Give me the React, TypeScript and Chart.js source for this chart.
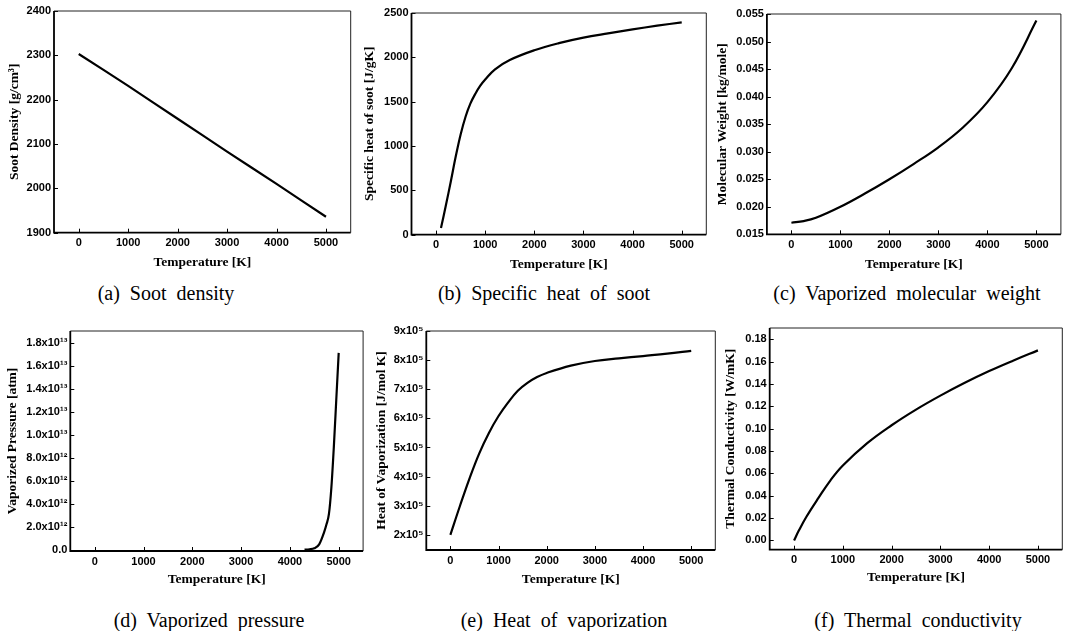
import React, { useEffect, useRef } from "react";
import { Chart, registerables } from "chart.js";

Chart.register(...registerables);

// ---------------- data ----------------
const X_TICKS = [0, 1000, 2000, 3000, 4000, 5000];
const X_TICK_LABELS = ["0", "1000", "2000", "3000", "4000", "5000"];

// (a) soot density
const densityT = [0, 1000, 2000, 3000, 4000, 5000];
const densityValues = [2303, 2231, 2157, 2083, 2010, 1936];
const densityTicks = [1900, 2000, 2100, 2200, 2300, 2400];
const densityTickLabels = ["1900", "2000", "2100", "2200", "2300", "2400"];

// (b) specific heat of soot
const cpT = [100, 200, 300, 400, 500, 600, 700, 800, 900, 1000, 1200, 1500, 2000, 2500, 3000, 3500, 4000, 4500, 5000];
const cpValues = [75, 330, 600, 880, 1130, 1330, 1480, 1590, 1680, 1750, 1865, 1970, 2080, 2160, 2222, 2270, 2315, 2357, 2395];
const cpTicks = [0, 500, 1000, 1500, 2000, 2500];
const cpTickLabels = ["0", "500", "1000", "1500", "2000", "2500"];

// (c) vaporized molecular weight
const mwT = [0, 250, 500, 1000, 1500, 2000, 2500, 3000, 3500, 4000, 4500, 5000];
const mwValues = [0.0171, 0.0174, 0.018, 0.02, 0.0224, 0.025, 0.0278, 0.0308, 0.0344, 0.039, 0.0452, 0.0538];
const mwTicks = [0.015, 0.02, 0.025, 0.03, 0.035, 0.04, 0.045, 0.05, 0.055];
const mwTickLabels = ["0.015", "0.020", "0.025", "0.030", "0.035", "0.040", "0.045", "0.050", "0.055"];

// (d) vaporized pressure
const pvT = [4300, 4400, 4500, 4600, 4700, 4750, 4800, 4850, 4900, 4950, 5000];
const pvValues = [0, 3e10, 1.2e11, 4.6e11, 1.5e12, 2.2e12, 3.1e12, 5.4e12, 8.9e12, 1.3e13, 1.71e13];
const pvTicks = [0, 2e12, 4e12, 6e12, 8e12, 1e13, 1.2e13, 1.4e13, 1.6e13, 1.8e13];
const pvTickLabels = ["0.0", "2.0x10¹²", "4.0x10¹²", "6.0x10¹²", "8.0x10¹²", "1.0x10¹³", "1.2x10¹³", "1.4x10¹³", "1.6x10¹³", "1.8x10¹³"];

// (e) heat of vaporization
const hvT = [0, 200, 400, 600, 800, 1000, 1200, 1400, 1600, 1800, 2000, 2500, 3000, 3500, 4000, 4500, 5000];
const hvValues = [2.0e5, 3.0e5, 3.95e5, 4.8e5, 5.5e5, 6.08e5, 6.55e5, 6.95e5, 7.22e5, 7.42e5, 7.56e5, 7.81e5, 7.97e5, 8.06e5, 8.14e5, 8.22e5, 8.32e5];
const hvTicks = [2e5, 3e5, 4e5, 5e5, 6e5, 7e5, 8e5, 9e5];
const hvTickLabels = ["2x10⁵", "3x10⁵", "4x10⁵", "5x10⁵", "6x10⁵", "7x10⁵", "8x10⁵", "9x10⁵"];

// (f) thermal conductivity
const kT = [0, 100, 250, 500, 750, 1000, 1500, 2000, 2500, 3000, 3500, 4000, 4500, 5000];
const kValues = [0, 0.009, 0.021, 0.038, 0.054, 0.067, 0.087, 0.103, 0.117, 0.1295, 0.141, 0.1515, 0.161, 0.17];
const kTicks = [0, 0.02, 0.04, 0.06, 0.08, 0.1, 0.12, 0.14, 0.16, 0.18];
const kTickLabels = ["0.00", "0.02", "0.04", "0.06", "0.08", "0.10", "0.12", "0.14", "0.16", "0.18"];

const X_TITLE = "Temperature [K]";

// ---------------- layout / styles ----------------
const TICK_FONT = { family: "'Liberation Sans', Arial, sans-serif", size: 11, weight: "bold" as const };
const TITLE_SIZE = 13.5;
const TITLE_FONT = { family: "'Liberation Serif', 'Times New Roman', serif", size: TITLE_SIZE, weight: "bold" as const, lineHeight: 1.2 };
const TITLE_LH = TITLE_SIZE * 1.2;

type PanelSpec = {
  xs: number[];
  ys: number[];
  yTicks: number[];
  yTickLabels: string[];
  yMin: number;
  yMax: number;
  yTitle: string;
  caption: string;
  monotone: boolean;
  box: { L: number; T: number; R: number; B: number };
  yTitleX: number;
  xTitleY: number;
  capX: number;
  capY: number;
};

const PANELS: PanelSpec[] = [
  {
    xs: densityT, ys: densityValues, yTicks: densityTicks, yTickLabels: densityTickLabels,
    yMin: 1900, yMax: 2400, yTitle: "Soot Density [g/cm³]", caption: "(a)  Soot  density", monotone: false,
    box: { L: 54, T: 11, R: 350.7, B: 232.7 }, yTitleX: 15, xTitleY: 263.3, capX: 166, capY: 293,
  },
  {
    xs: cpT, ys: cpValues, yTicks: cpTicks, yTickLabels: cpTickLabels,
    yMin: 0, yMax: 2500, yTitle: "Specific heat of soot [J/gK]", caption: "(b)  Specific  heat  of  soot", monotone: false,
    box: { L: 411.5, T: 12.7, R: 706.3, B: 234.3 }, yTitleX: 370, xTitleY: 265, capX: 544, capY: 293,
  },
  {
    xs: mwT, ys: mwValues, yTicks: mwTicks, yTickLabels: mwTickLabels,
    yMin: 0.015, yMax: 0.055, yTitle: "Molecular Weight [kg/mole]", caption: "(c)  Vaporized  molecular  weight", monotone: false,
    box: { L: 767.2, T: 14, R: 1061.2, B: 234.3 }, yTitleX: 723.3, xTitleY: 265, capX: 907, capY: 293,
  },
  {
    xs: pvT, ys: pvValues, yTicks: pvTicks, yTickLabels: pvTickLabels,
    yMin: -1.2e11, yMax: 1.9e13, yTitle: "Vaporized Pressure [atm]", caption: "(d)  Vaporized  pressure", monotone: true,
    box: { L: 70.6, T: 330.7, R: 363.4, B: 550.7 }, yTitleX: 13.3, xTitleY: 580, capX: 209, capY: 620,
  },
  {
    xs: hvT, ys: hvValues, yTicks: hvTicks, yTickLabels: hvTickLabels,
    yMin: 1.48e5, yMax: 9.0e5, yTitle: "Heat of Vaporization [J/mol K]", caption: "(e)  Heat  of  vaporization", monotone: false,
    box: { L: 426, T: 331, R: 715, B: 550 }, yTitleX: 381.7, xTitleY: 580, capX: 564, capY: 620,
  },
  {
    xs: kT, ys: kValues, yTicks: kTicks, yTickLabels: kTickLabels,
    yMin: -0.0083, yMax: 0.19, yTitle: "Thermal Conductivity [W/mK]", caption: "(f)  Thermal  conductivity", monotone: false,
    box: { L: 769.4, T: 328.3, R: 1062, B: 550 }, yTitleX: 730.7, xTitleY: 578.3, capX: 918, capY: 620,
  },
];

const framePlugin = {
  id: "frameAndInnerTicks",
  afterDraw(chart: any) {
    const { ctx, chartArea, scales } = chart;
    const { left, top, right, bottom } = chartArea;
    ctx.save();
    ctx.strokeStyle = "#000";
    ctx.lineWidth = 1;
    const tl = 4;
    ctx.beginPath();
    scales.x.ticks.forEach((t: any) => {
      const px = Math.round(scales.x.getPixelForValue(t.value)) + 0.5;
      ctx.moveTo(px, bottom);
      ctx.lineTo(px, bottom - tl);
    });
    scales.y.ticks.forEach((t: any) => {
      const py = Math.round(scales.y.getPixelForValue(t.value)) + 0.5;
      ctx.moveTo(left, py);
      ctx.lineTo(left + tl, py);
    });
    ctx.stroke();
    ctx.strokeStyle = "#222";
    ctx.lineWidth = 1;
    ctx.beginPath();
    ctx.moveTo(left, top);
    ctx.lineTo(right, top);
    ctx.lineTo(right, bottom);
    ctx.stroke();
    ctx.strokeStyle = "#000";
    ctx.lineWidth = 1.8;
    ctx.beginPath();
    ctx.moveTo(left, top);
    ctx.lineTo(left, bottom);
    ctx.lineTo(right, bottom);
    ctx.stroke();
    ctx.restore();
  },
};

function Panel({ spec }: { spec: PanelSpec }) {
  const ref = useRef<HTMLCanvasElement | null>(null);
  const { box } = spec;
  const cl = spec.yTitleX - 11;
  const ct = box.T - 12;
  const cr = Math.min(box.R + 4, 1066);
  const cb = spec.xTitleY + 11;
  const w = Math.round(cr - cl);
  const h = Math.round(cb - ct);

  useEffect(() => {
    if (!ref.current) return;
    const yAxisW = box.L - cl;
    const xAxisH = ct + h - box.B;
    const chart = new Chart(ref.current, {
      type: "line",
      data: {
        datasets: [
          {
            data: spec.xs.map((x, i) => ({ x, y: spec.ys[i] })),
            borderColor: "#000",
            borderWidth: 2.2,
            pointRadius: 0,
            fill: false,
            ...(spec.monotone ? { cubicInterpolationMode: "monotone" } : { tension: 0.4 }),
          },
        ],
      },
      options: {
        responsive: false,
        animation: false,
        devicePixelRatio: 1,
        layout: { padding: { left: 0, top: box.T - ct, right: cl + w - box.R, bottom: 0 } },
        plugins: { legend: { display: false }, tooltip: { enabled: false } },
        scales: {
          x: {
            type: "linear",
            min: -500,
            max: 5500,
            afterBuildTicks: (ax: any) => {
              ax.ticks = X_TICKS.map((v) => ({ value: v }));
            },
            afterFit: (ax: any) => {
              ax.height = xAxisH;
            },
            grid: { display: false, drawTicks: false },
            border: { display: false },
            ticks: {
              padding: 4,
              autoSkip: false,
              maxRotation: 0,
              color: "#000",
              font: TICK_FONT,
              callback: (_v: any, i: number) => X_TICK_LABELS[i],
            },
            title: {
              display: true,
              text: X_TITLE,
              color: "#000",
              font: TITLE_FONT,
              padding: { top: 0, bottom: cb - spec.xTitleY - TITLE_LH / 2 },
            },
          },
          y: {
            type: "linear",
            min: spec.yMin,
            max: spec.yMax,
            afterBuildTicks: (ax: any) => {
              ax.ticks = spec.yTicks.map((v) => ({ value: v }));
            },
            afterFit: (ax: any) => {
              ax.width = yAxisW;
            },
            grid: { display: false, drawTicks: false },
            border: { display: false },
            ticks: {
              padding: 3,
              autoSkip: false,
              color: "#000",
              font: TICK_FONT,
              callback: (_v: any, i: number) => spec.yTickLabels[i],
            },
            title: {
              display: true,
              text: spec.yTitle,
              color: "#000",
              font: TITLE_FONT,
              padding: { top: spec.yTitleX - cl - TITLE_LH / 2, bottom: 0 },
            },
          },
        },
      },
      plugins: [framePlugin],
    } as any);
    return () => chart.destroy();
  }, []);

  return (
    <>
      <canvas
        ref={ref}
        width={w}
        height={h}
        style={{ position: "absolute", left: cl, top: ct, width: w, height: h }}
      />
      <div
        style={{
          position: "absolute",
          left: spec.capX - 200,
          top: spec.capY - 12,
          width: 400,
          height: 24,
          lineHeight: "24px",
          textAlign: "center",
          fontFamily: "'Liberation Serif', 'Times New Roman', serif",
          fontSize: 20,
          whiteSpace: "pre",
          color: "#000",
        }}
      >
        {spec.caption}
      </div>
    </>
  );
}

export default function App() {
  return (
    <div
      style={{
        position: "absolute",
        left: 0,
        top: 0,
        width: 1066,
        height: 631,
        background: "#fff",
        overflow: "hidden",
      }}
    >
      {PANELS.map((p, i) => (
        <Panel key={i} spec={p} />
      ))}
    </div>
  );
}
